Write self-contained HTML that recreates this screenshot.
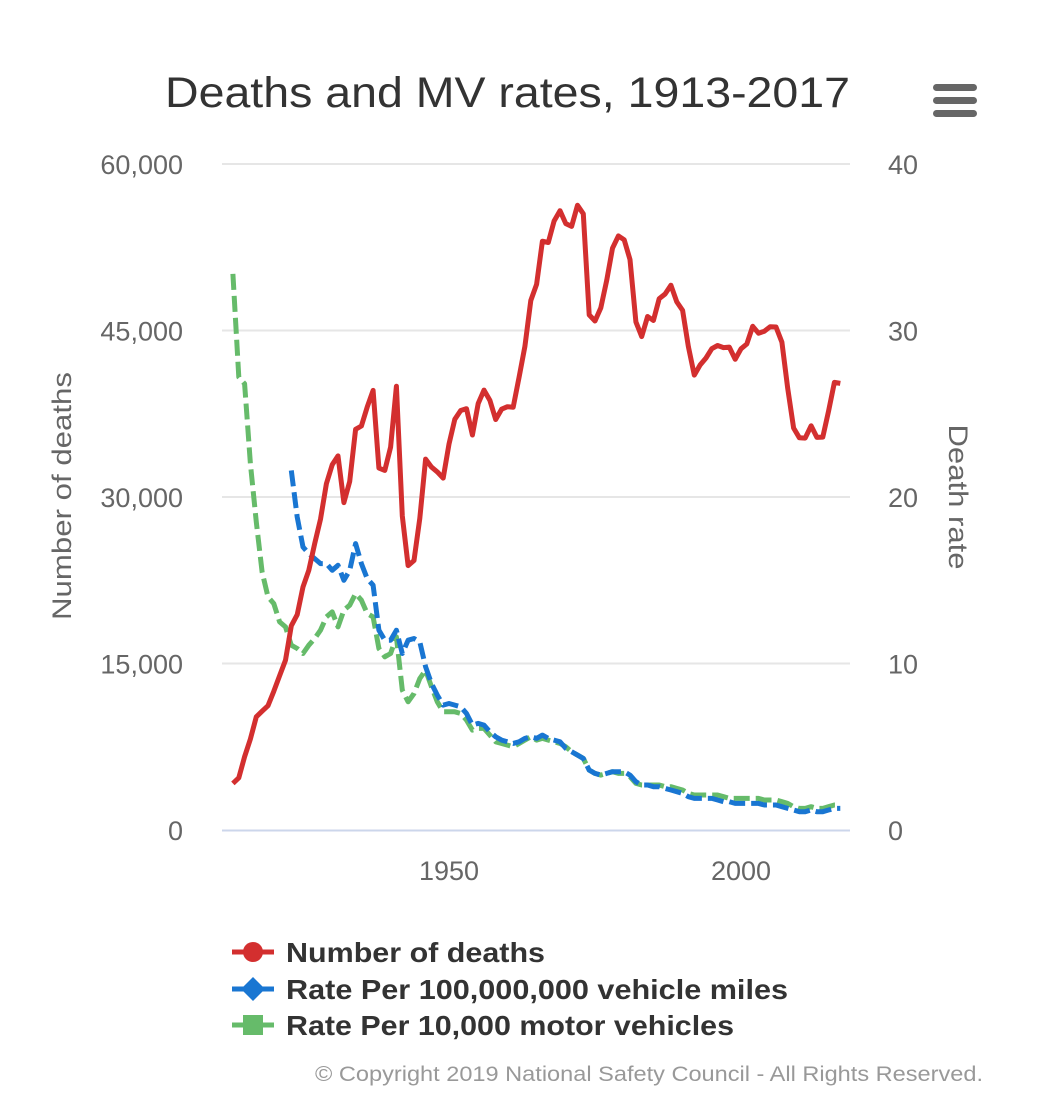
<!DOCTYPE html>
<html><head><meta charset="utf-8">
<style>
html,body{margin:0;padding:0;background:#fff;}
svg{display:block;font-family:"Liberation Sans",sans-serif;}
</style></head>
<body>
<svg id="chart" width="1042" height="1112" viewBox="0 0 1042 1112">
<text x="165" y="107" textLength="685" lengthAdjust="spacingAndGlyphs" font-size="43" fill="#333">Deaths and MV rates, 1913-2017</text>
<g>
<rect x="933" y="84" width="44" height="7" rx="3.5" fill="#666"/>
<rect x="933" y="97" width="44" height="7" rx="3.5" fill="#666"/>
<rect x="933" y="110" width="44" height="7" rx="3.5" fill="#666"/>
</g>
<g id="grid"></g>
<g id="marks"></g>
<text transform="translate(71,496) rotate(-90)" text-anchor="middle" textLength="248" lengthAdjust="spacingAndGlyphs" font-size="27" fill="#666">Number of deaths</text>
<text transform="translate(949,497) rotate(90)" text-anchor="middle" textLength="145" lengthAdjust="spacingAndGlyphs" font-size="27" fill="#666">Death rate</text>
<g>
<g>
<line x1="232" y1="952" x2="274" y2="952" stroke="#d32f2f" stroke-width="5"/>
<circle cx="253" cy="952" r="10" fill="#d32f2f"/>
<text x="286" y="962" textLength="259" lengthAdjust="spacingAndGlyphs" font-size="28" font-weight="bold" fill="#333">Number of deaths</text></g>
<g>
<line x1="232" y1="989" x2="274" y2="989" stroke="#1976d2" stroke-width="5"/>
<path d="M253 977 L265 989 L253 1001 L241 989 Z" fill="#1976d2"/>
<text x="286" y="999" textLength="502" lengthAdjust="spacingAndGlyphs" font-size="28" font-weight="bold" fill="#333">Rate Per 100,000,000 vehicle miles</text></g>
<g>
<line x1="232" y1="1025" x2="274" y2="1025" stroke="#66bb6a" stroke-width="5"/>
<rect x="243" y="1015" width="20" height="20" fill="#66bb6a"/>
<text x="286" y="1035" textLength="448" lengthAdjust="spacingAndGlyphs" font-size="28" font-weight="bold" fill="#333">Rate Per 10,000 motor vehicles</text></g>
</g>
<text x="315" y="1081" textLength="668" lengthAdjust="spacingAndGlyphs" font-size="21" fill="#999">© Copyright 2019 National Safety Council - All Rights Reserved.</text>
</svg>
<script>
const deathYears0 = 1913;
const deaths = [4200,4700,6600,8200,10200,10700,11200,12500,13900,15300,18400,19400,21900,23400,25800,28000,31200,32900,33700,29500,31400,36100,36400,38100,39600,32600,32400,34500,39969,28300,23823,24282,28076,33411,32697,32259,31701,34763,36996,37794,37955,35586,38426,39628,38702,36981,37910,38137,38091,40804,43564,47700,49163,53041,52924,54862,55791,54633,54381,56278,55511,46402,45853,47038,49510,52411,53524,53172,51385,45779,44452,46263,45901,47865,48290,49078,47575,46814,43536,40982,41893,42524,43363,43649,43458,43501,42401,43354,43788,45380,44757,44933,45343,45316,43945,39790,36216,35332,35303,36415,35369,35398,37757,40327,40231];
const milesYears0 = 1923;
const milesRate = [21.6,18.8,17.0,16.6,16.3,16.0,16.0,15.6,15.9,15.0,15.6,17.2,16.0,15.1,14.7,12.0,11.4,11.4,12.0,10.6,11.4,11.5,11.3,9.8,8.8,8.1,7.5,7.6,7.5,7.4,7.0,6.3,6.4,6.3,5.9,5.6,5.4,5.3,5.2,5.3,5.5,5.6,5.5,5.7,5.5,5.4,5.3,4.9,4.7,4.5,4.3,3.6,3.4,3.3,3.4,3.5,3.5,3.5,3.3,2.9,2.7,2.7,2.6,2.6,2.5,2.4,2.3,2.2,2.0,1.9,1.9,1.9,1.9,1.8,1.7,1.7,1.6,1.6,1.6,1.6,1.6,1.5,1.5,1.5,1.4,1.3,1.2,1.1,1.1,1.2,1.1,1.1,1.2,1.3,1.3];
const vehYears0 = 1913;
const vehRate = [33.4,27.2,26.8,22.0,18.5,15.5,14.0,13.6,12.5,12.2,11.1,10.9,10.6,11.1,11.5,12.0,12.8,13.1,12.2,13.2,13.5,14.2,13.8,13.0,12.8,10.9,10.4,10.6,11.6,8.4,7.7,8.2,9.1,9.6,8.6,7.7,7.1,7.1,7.1,7.0,6.6,6.0,6.1,6.1,5.7,5.3,5.2,5.1,5.0,5.2,5.4,5.6,5.4,5.5,5.4,5.3,5.2,5.0,4.7,4.5,4.3,3.6,3.4,3.3,3.4,3.5,3.4,3.4,3.2,2.8,2.7,2.7,2.7,2.7,2.6,2.6,2.5,2.4,2.2,2.1,2.1,2.1,2.1,2.1,2.0,1.9,1.9,1.9,1.9,1.9,1.9,1.8,1.8,1.8,1.7,1.6,1.4,1.3,1.3,1.4,1.3,1.3,1.4,1.5,1.5];
const leftTicks = [0,15000,30000,45000,60000];
const rightTicks = [0,10,20,30,40];
const xTicks = [1950,2000];

const NS='http://www.w3.org/2000/svg';
const X0=222,X1=850,Y0=830,Y1=164;
const xs = yr => 449 + (yr-1950)*(741-449)/50;
const yL = v => Y0 - v*(Y0-Y1)/60000;
const yR = v => Y0 - v*(Y0-Y1)/40;
function mk(tag,attrs,parent){const e=document.createElementNS(NS,tag);for(const k in attrs)e.setAttribute(k,attrs[k]);parent.appendChild(e);return e;}
const grid=document.getElementById('grid'), marks=document.getElementById('marks');
leftTicks.forEach((t,i)=>{
  const y=yL(t);
  if(t>0){const l=mk('line',{x1:X0,x2:X1,y1:y,y2:y,stroke:'#e6e6e6','stroke-width':2},grid);
    
    }
  const tx=mk('text',{x:183,y:y+10,'text-anchor':'end','font-size':27,fill:'#666'},grid);
  tx.textContent=t.toLocaleString('en-US');
  
  
});
rightTicks.forEach(t=>{
  const tx=mk('text',{x:888,y:yR(t)+10,'font-size':27,fill:'#666'},grid);
  tx.textContent=t;
  
  
});
const ax=mk('line',{x1:X0,x2:X1,y1:Y0+0.5,y2:Y0+0.5,stroke:'#ccd6eb','stroke-width':2},grid);


xTicks.forEach(t=>{
  const tx=mk('text',{x:xs(t),y:880,'text-anchor':'middle','font-size':27,fill:'#666'},grid);
  tx.textContent=t;
  
  
});
function series(arr,y0,yf,color,dash,name){
  const d=arr.map((v,i)=>(i?'L':'M')+xs(y0+i).toFixed(1)+' '+yf(v).toFixed(1)).join(' ');
  const p=mk('path',{d:d,fill:'none',stroke:color,'stroke-width':5,'stroke-linejoin':'round'},marks);
  if(dash)p.setAttribute('stroke-dasharray','16 6');
  
  
}
series(vehRate,vehYears0,yR,'#66bb6a',true,'vehicles-rate-line');
series(milesRate,milesYears0,yR,'#1976d2',true,'miles-rate-line');
series(deaths,deathYears0,yL,'#d32f2f',false,'deaths-line');
</script>
</body></html>
